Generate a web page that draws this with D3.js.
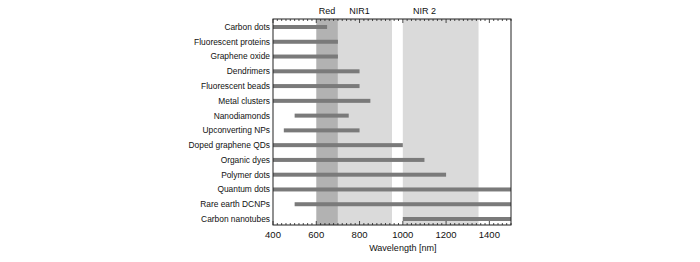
<!DOCTYPE html>
<html>
<head>
<meta charset="utf-8">
<script src="https://cdn.jsdelivr.net/npm/d3@7"></script>
<style>
  body { margin: 0; background: #fff; }
  text { font-family: "Liberation Sans", Arial, sans-serif; fill: #111; }
</style>
</head>
<body>
<div id="chart"></div>
<script>
// probes and their emission wavelength ranges (nm)
const probes = ["Carbon dots", "Fluorescent proteins", "Graphene oxide", "Dendrimers",
  "Fluorescent beads", "Metal clusters", "Nanodiamonds", "Upconverting NPs",
  "Doped graphene QDs", "Organic dyes", "Polymer dots", "Quantum dots",
  "Rare earth DCNPs", "Carbon nanotubes"];
const rangeStart = [400, 400, 400, 400, 400, 400, 500, 450, 400, 400, 400, 400, 500, 1000];
const rangeEnd = [650, 700, 700, 800, 800, 850, 750, 800, 1000, 1100, 1200, 1500, 1500, 1500];

// spectral windows
const bandNames = ["Red", "NIR1", "NIR 2"];
const bandStart = [600, 700, 1000];
const bandEnd = [700, 950, 1350];

const xTicks = [400, 600, 800, 1000, 1200, 1400];

const width = 700, height = 262,
    margin = ({ top: 19, right: 189, bottom: 37, left: 273 });

const svg = d3.select("#chart")
    .append("svg")
    .attr("width", width)
    .attr("height", height)
    .attr("viewBox", [0, 0, width, height]);

let x = d3.scaleLinear()
    .domain([400, 1500])
    .range([margin.left, width - margin.right]);

let y = d3.scalePoint()
    .domain(probes)
    .range([margin.top + 8, height - margin.bottom - 6]);

// shaded bands
const bands = bandNames.map((n, i) => ({ name: n, a: bandStart[i], b: bandEnd[i] }));
svg.append("g")
  .selectAll("rect")
  .data(bands)
  .join("rect")
    .attr("x", d => x(d.a))
    .attr("width", d => x(d.b) - x(d.a))
    .attr("y", margin.top)
    .attr("height", height - margin.bottom - margin.top)
    .attr("fill", d => d.name == "Red" ? "#b2b2b2" : "#dadada");

svg.append("g")
  .selectAll("text")
  .data(bands)
  .join("text")
    .attr("x", (d, i) => i == 1 ? x(800) : i == 2 ? x(1100) : x((d.a + d.b) / 2))
    .attr("y", margin.top - 5)
    .attr("text-anchor", "middle")
    .style("font-size", "9px")
    .text(d => d.name);

// bars
const rows = probes.map((p, i) => ({ name: p, a: rangeStart[i], b: rangeEnd[i] }));
svg.append("g")
  .selectAll("rect")
  .data(rows)
  .join("rect")
    .attr("x", d => x(d.a))
    .attr("width", d => x(d.b) - x(d.a))
    .attr("y", d => y(d.name) - 2)
    .attr("height", 4)
    .attr("fill", "#7a7a7a");

// row labels
svg.append("g")
  .selectAll("text")
  .data(probes)
  .join("text")
    .attr("x", margin.left - 3)
    .attr("y", d => y(d))
    .attr("dy", "0.35em")
    .attr("text-anchor", "end")
    .style("font-size", "8.4px")
    .text(d => d);

// frame + minor ticks (top and bottom, pointing inward)
const minor = d3.range(400, 1501, 20);
const bottomY = height - margin.bottom;
svg.append("g")
  .selectAll("line")
  .data(minor)
  .join("line")
    .attr("x1", d => x(d)).attr("x2", d => x(d))
    .attr("y1", bottomY).attr("y2", d => bottomY - (d % 200 == 0 ? 4 : 2))
    .attr("stroke", "#222").attr("stroke-width", 0.8);
svg.append("g")
  .selectAll("line")
  .data(minor)
  .join("line")
    .attr("x1", d => x(d)).attr("x2", d => x(d))
    .attr("y1", margin.top).attr("y2", d => margin.top + (d % 200 == 0 ? 4 : 2))
    .attr("stroke", "#222").attr("stroke-width", 0.8);

svg.append("rect")
    .attr("x", margin.left)
    .attr("y", margin.top)
    .attr("width", width - margin.right - margin.left)
    .attr("height", bottomY - margin.top)
    .attr("fill", "none")
    .attr("stroke", "#222")
    .attr("stroke-width", 1);

// tick labels
svg.append("g")
  .selectAll("text")
  .data(xTicks)
  .join("text")
    .attr("x", d => x(d))
    .attr("y", bottomY + 13)
    .attr("text-anchor", "middle")
    .style("font-size", "9.5px")
    .text(d => d);

svg.append("text")
    .attr("x", x(1000))
    .attr("y", bottomY + 26)
    .attr("text-anchor", "middle")
    .style("font-size", "9px")
    .text("Wavelength [nm]");
</script>
</body>
</html>
